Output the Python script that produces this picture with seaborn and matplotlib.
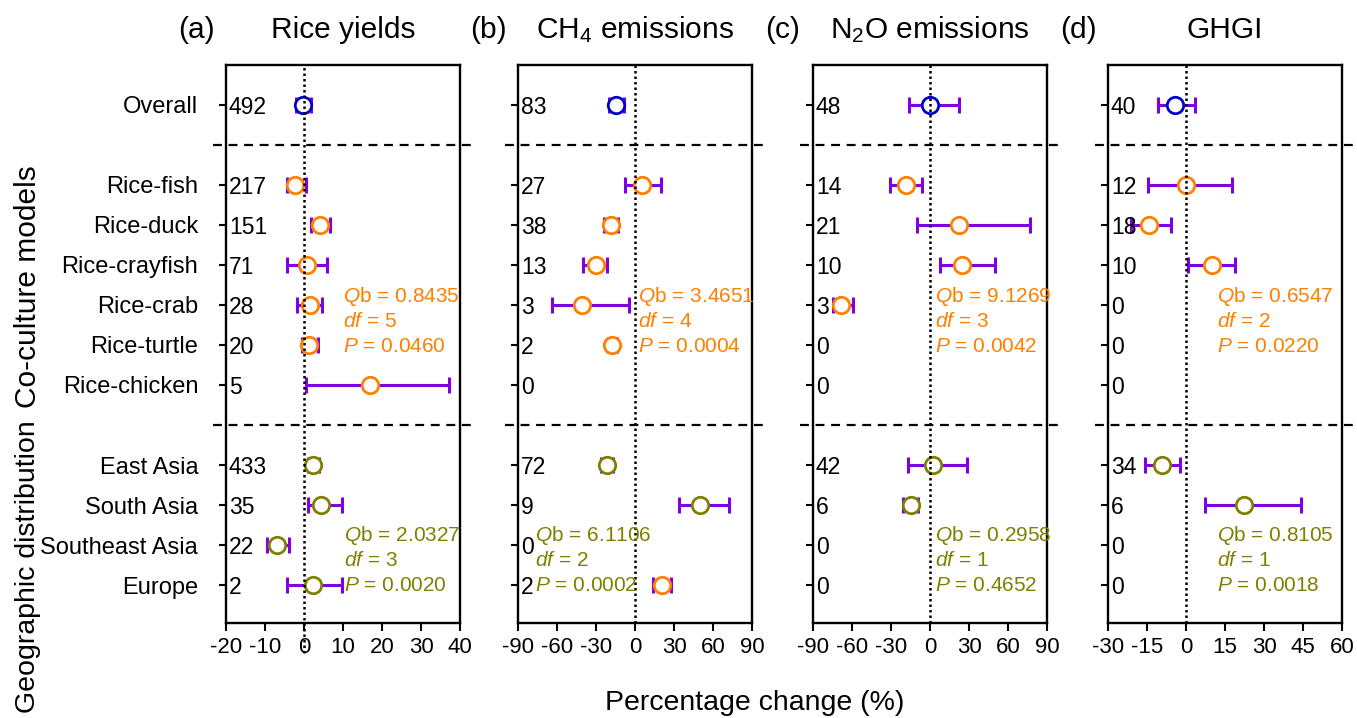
import numpy as np
import pandas as pd
import matplotlib.pyplot as plt
import matplotlib.transforms as mtransforms
import seaborn as sns

sns.set_style("white")
plt.rcParams['font.family'] = ['Liberation Sans', 'DejaVu Sans']
plt.rcParams['mathtext.fontset'] = 'custom'
plt.rcParams['mathtext.rm'] = 'Liberation Sans'
plt.rcParams['mathtext.it'] = 'Liberation Sans:italic'
for key in ('text.color', 'axes.labelcolor', 'xtick.color', 'ytick.color'):
    plt.rcParams[key] = 'black'

nan = np.nan

# Rows (top to bottom)
categories = ['Overall', 'Rice-fish', 'Rice-duck', 'Rice-crayfish', 'Rice-crab',
              'Rice-turtle', 'Rice-chicken', 'East Asia', 'South Asia',
              'Southeast Asia', 'Europe']
row_pos = [0, 2, 3, 4, 5, 6, 7, 9, 10, 11, 12]
groups = ['overall'] + ['model'] * 6 + ['region'] * 4
groups_ch4 = ['overall'] + ['model'] * 6 + ['region'] * 3 + ['model']

# (a) Rice yields
yield_n = [492, 217, 151, 71, 28, 20, 5, 433, 35, 22, 2]
yield_mean = [-0.2, -2.2, 4.2, 0.7, 1.5, 1.2, 16.8, 2.4, 4.4, -6.8, 2.3]
yield_lo = [-2.0, -4.4, 1.7, -4.4, -1.8, -0.4, 0.6, 0.9, 0.9, -9.5, -4.3]
yield_hi = [1.9, 0.4, 6.7, 5.9, 4.7, 3.6, 37.1, 3.8, 9.8, -3.8, 9.6]

# (b) CH4 emissions
ch4_n = [83, 27, 38, 13, 3, 2, 0, 72, 9, 0, 2]
ch4_mean = [-14.7, 5.4, -18.8, -30.3, -41.1, -18.0, nan, -21.9, 50.1, nan, 20.6]
ch4_lo = [-19.8, -7.5, -23.7, -40.4, -63.5, -21.0, nan, -26.0, 33.7, nan, 13.6]
ch4_hi = [-8.5, 19.8, -13.4, -21.9, -4.9, -14.0, nan, -17.2, 72.2, nan, 27.5]

# (c) N2O emissions
n2o_n = [48, 14, 21, 10, 3, 0, 0, 42, 6, 0, 0]
n2o_mean = [0.1, -18.2, 22.5, 24.3, -68.8, nan, nan, 2.3, -14.6, nan, nan]
n2o_lo = [-16.6, -30.9, -10.0, 7.2, -74.7, nan, nan, -16.9, -20.5, nan, nan]
n2o_hi = [22.0, -6.4, 76.7, 50.1, -59.3, nan, nan, 28.6, -9.2, nan, nan]

# (d) GHGI
ghgi_n = [40, 12, 18, 10, 0, 0, 0, 34, 6, 0, 0]
ghgi_mean = [-4.3, 0.0, -14.1, 10.1, nan, nan, nan, -9.3, 22.1, nan, nan]
ghgi_lo = [-10.9, -14.6, -21.1, 0.8, nan, nan, nan, -15.6, 7.3, nan, nan]
ghgi_hi = [3.3, 17.5, -5.8, 18.9, nan, nan, nan, -2.3, 44.1, nan, nan]

# Between-group heterogeneity (Qb, df, P) for co-culture models and regions
stats_model = [('0.8435', '5', '0.0460'), ('3.4651', '4', '0.0004'),
               ('9.1269', '3', '0.0042'), ('0.6547', '2', '0.0220')]
stats_region = [('2.0327', '3', '0.0020'), ('6.1106', '2', '0.0002'),
                ('0.2958', '1', '0.4652'), ('0.8105', '1', '0.0018')]

titles = ['Rice yields', 'CH$_4$ emissions', 'N$_2$O emissions', 'GHGI']
letters = ['(a)', '(b)', '(c)', '(d)']
xticks = [np.arange(-20, 41, 10), np.arange(-90, 91, 30),
          np.arange(-90, 91, 30), np.arange(-30, 61, 15)]

panels = [
    (yield_n, yield_mean, yield_lo, yield_hi, groups),
    (ch4_n, ch4_mean, ch4_lo, ch4_hi, groups_ch4),
    (n2o_n, n2o_mean, n2o_lo, n2o_hi, groups),
    (ghgi_n, ghgi_mean, ghgi_lo, ghgi_hi, groups),
]
# x position (data units) of the stats text per panel
stat_x_model = [10.0, 2.3, 3.5, 11.9]
stat_x_region = [10.2, -77.0, 3.5, 12.0]

palette = {'overall': '#0000CC', 'model': '#FF8000', 'region': '#808000'}
err_color = '#7F00E0'

fig = plt.figure(figsize=(13.57, 7.18), dpi=100)
lefts = [0.1665, 0.3817, 0.5991, 0.8165]

for i, (n, mean, lo, hi, grp) in enumerate(panels):
    ax = fig.add_axes([lefts[i], 0.1323, 0.1727, 0.7772])
    df = pd.DataFrame({'pos': row_pos, 'n': n, 'mean': mean, 'lo': lo,
                       'hi': hi, 'group': grp})
    d = df.dropna()

    ax.errorbar(d['mean'], d['pos'],
                xerr=[d['mean'] - d['lo'], d['hi'] - d['mean']],
                fmt='none', ecolor=err_color, elinewidth=2.2,
                capsize=5.5, capthick=2.2, zorder=2)
    for g, c in palette.items():
        sub = d[d['group'] == g]
        if len(sub):
            sns.scatterplot(data=sub, x='mean', y='pos', ax=ax, color='white',
                            edgecolor=c, s=140, linewidth=2, zorder=3,
                            legend=False)

    # zero line and separators
    if i == 0:
        ax.axvline(0, ymin=-0.054, color='black', lw=1.8, ls=(0, (1, 1.2)),
                   zorder=5, clip_on=False)
    else:
        ax.axvline(0, color='black', lw=1.8, ls=(0, (1, 1.2)), zorder=5)
    for yy in (1, 8):
        ax.axhline(yy, xmin=-0.055, xmax=1.055, color='black', lw=1.6,
                   ls=(0, (4, 3)), clip_on=False, zorder=1)

    ax.set_xlim(xticks[i][0], xticks[i][-1])
    ax.set_ylim(12.95, -1)
    ax.set_xticks(xticks[i])
    ax.set_xticklabels([str(t) for t in xticks[i]], fontsize=16)
    ax.set_yticks(row_pos)
    if i == 0:
        ax.set_yticklabels(categories, fontsize=17)
    else:
        ax.set_yticklabels([])
    ax.tick_params(axis='y', direction='out', length=5, width=1.5, pad=15,
                   left=True)
    ax.tick_params(axis='x', direction='out', length=6, width=1.5, pad=4,
                   bottom=True)
    ax.set_xlabel('')
    ax.set_ylabel('')
    for sp in ax.spines.values():
        sp.set_color('black')
        sp.set_linewidth(1.7)

    # sample sizes
    trans = mtransforms.blended_transform_factory(ax.transAxes, ax.transData)
    for p, k in zip(row_pos, n):
        ax.text(0.012, p, str(k), transform=trans, ha='left',
                va='center_baseline', fontsize=16.5, zorder=6)

    # heterogeneity statistics
    for (qb, dof, pv), sx, ys, c in (
            (stats_model[i], stat_x_model[i], (4.8, 5.42, 6.05), palette['model']),
            (stats_region[i], stat_x_region[i], (10.75, 11.38, 12.0), palette['region'])):
        ax.text(sx, ys[0], r'$\mathit{Q}$b = ' + qb, color=c, fontsize=15,
                ha='left', va='center', zorder=6)
        ax.text(sx, ys[1], r'$\mathit{df}$ = ' + dof, color=c, fontsize=15,
                ha='left', va='center', zorder=6)
        ax.text(sx, ys[2], r'$\mathit{P}$ = ' + pv, color=c, fontsize=15,
                ha='left', va='center', zorder=6)

    ax.text(0.5, 1.063, titles[i], transform=ax.transAxes, ha='center',
            va='center', fontsize=21.5)
    ax.text(-0.128, 1.063, letters[i], transform=ax.transAxes, ha='center',
            va='center', fontsize=21.5)

fig.text(0.556, 0.021, 'Percentage change (%)', ha='center', va='center',
         fontsize=20.5)
fig.text(28 / 1357, 1 - 287 / 718, 'Co-culture models', rotation=90,
         ha='center', va='center', fontsize=21.5)
fig.text(28 / 1357, 1 - 567 / 718, 'Geographic distribution', rotation=90,
         ha='center', va='center', fontsize=20.5)

fig.savefig('out.png', dpi=100)
